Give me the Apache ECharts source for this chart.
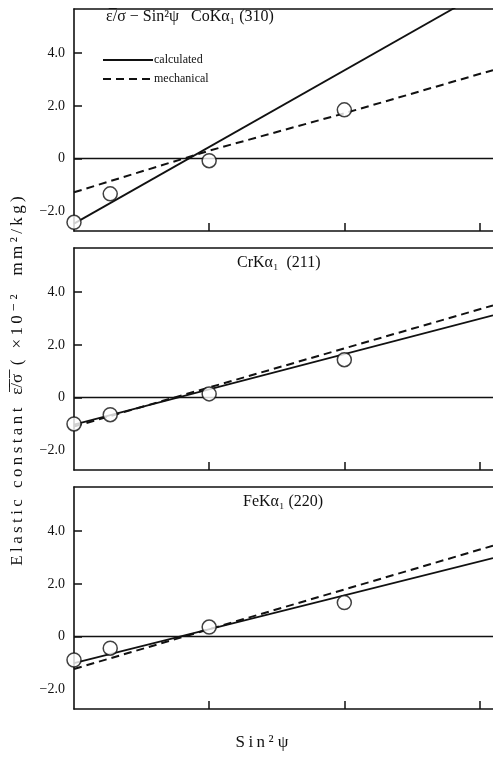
<!DOCTYPE html>
<html>
<head>
<meta charset="utf-8">
<script src="https://cdn.jsdelivr.net/npm/echarts@6/dist/echarts.min.js"></script>
<style>
  html, body { margin: 0; padding: 0; background: #fff; }
  #chart { width: 493px; height: 757px; }
</style>
</head>
<body>
<div id="chart"></div>
<script>
// sin^2(psi) for psi = 0, 15, 30, 45 deg (measured tilt angles)
const sin2psi = [0, 0.067, 0.25, 0.5];

// Measured elastic constants (x10^-2 mm^2/kg), one array per radiation
const measCo = [-2.42, -1.34, -0.08, 1.85];
const measCr = [-1.0, -0.65, 0.14, 1.44];
const measFe = [-0.89, -0.44, 0.36, 1.29];

// Calculated lines: [sin^2 psi, value]
const calcCo = [[0, -2.47], [0.775, 6.55]];
const calcCr = [[0, -1.03], [0.775, 3.12]];
const calcFe = [[0, -1.01], [0.775, 2.98]];

// Mechanically measured lines
const mechCo = [[0, -1.28], [0.25, 0.3], [0.5, 1.72], [0.775, 3.36]];
const mechCr = [[0, -1.1], [0.775, 3.5]];
const mechFe = [[0, -1.23], [0.775, 3.45]];

const panelTitles = ['ε\u0305/σ − Sin²ψ   CoKα\u2081 (310)', 'CrKα\u2081  (211)', 'FeKα\u2081 (220)'];
const yTickLabels = [-2, 0, 2, 4];
const xTicks = [0.25, 0.5, 0.75];

const FONT = 'Liberation Serif, DejaVu Serif, serif';
const INK = '#111';
const TS = '\u2009'; // thin space used to open up letter spacing

function spaced(s) {
  return Array.from(s).join(TS);
}

const panels = [
  { meas: measCo, calc: calcCo, mech: mechCo, top: 9 },
  { meas: measCr, calc: calcCr, mech: mechCr, top: 248 },
  { meas: measFe, calc: calcFe, mech: mechFe, top: 487 }
];

const grids = [], xAxes = [], yAxes = [], series = [];
panels.forEach((p, i) => {
  grids.push({ left: 74, right: 0, top: p.top, height: 222 });
  // bottom axis with inward ticks
  xAxes.push({
    type: 'value', gridIndex: i, min: 0, max: 0.775, position: 'bottom',
    axisLine: { onZero: false, lineStyle: { color: INK, width: 1.6 } },
    axisTick: { show: true, inside: true, length: 8, customValues: xTicks, lineStyle: { color: INK, width: 1.5 } },
    axisLabel: { show: false }, splitLine: { show: false }
  });
  // top frame line
  xAxes.push({
    type: 'value', gridIndex: i, min: 0, max: 0.775, position: 'top',
    axisLine: { onZero: false, lineStyle: { color: INK, width: 1.6 } },
    axisTick: { show: false }, axisLabel: { show: false }, splitLine: { show: false }
  });
  yAxes.push({
    type: 'value', gridIndex: i, min: -2.75, max: 5.68,
    axisLine: { show: true, onZero: false, lineStyle: { color: INK, width: 1.6 } },
    axisTick: { show: true, inside: true, length: 8, customValues: [0, 2, 4], lineStyle: { color: INK, width: 1.5 } },
    axisLabel: {
      customValues: yTickLabels, margin: 9, color: INK, fontFamily: FONT, fontSize: 14,
      formatter: v => v === 0 ? '0' : (v < 0 ? '−' : '') + Math.abs(v).toFixed(1)
    },
    splitLine: { show: false }
  });
  const xi = i * 2;
  series.push({
    name: 'calculated', type: 'line', xAxisIndex: xi, yAxisIndex: i,
    data: p.calc, symbol: 'none', clip: true, color: INK,
    lineStyle: { color: INK, width: 1.8, type: 'solid' },
    markLine: {
      silent: true, symbol: 'none', label: { show: false },
      lineStyle: { color: INK, width: 1.4, type: 'solid' },
      data: [{ yAxis: 0 }]
    },
    z: 3
  });
  series.push({
    name: 'mechanical', type: 'line', xAxisIndex: xi, yAxisIndex: i,
    data: p.mech, symbol: 'none', clip: true, color: INK,
    lineStyle: { color: INK, width: 2, type: [8, 5] },
    z: 3
  });
  series.push({
    name: 'measured', type: 'scatter', xAxisIndex: xi, yAxisIndex: i,
    data: sin2psi.map((x, k) => [x, p.meas[k]]),
    symbol: 'circle', symbolSize: 14,
    itemStyle: { color: '#fff', borderColor: INK, borderWidth: 1.5 },
    z: 5
  });
});

const titleStyle = { fontFamily: FONT, fontSize: 16, fontWeight: 'normal', color: INK };

const chart = echarts.init(document.getElementById('chart'), null, { renderer: 'canvas' });
chart.setOption({
  animation: false,
  backgroundColor: '#fff',
  title: [
    { text: panelTitles[0], left: 106, top: 9, padding: 0, textStyle: titleStyle },
    { text: panelTitles[1], left: 237, top: 255, padding: 0, textStyle: titleStyle },
    { text: panelTitles[2], left: 243, top: 494, padding: 0, textStyle: titleStyle }
  ],
  legend: {
    data: ['calculated', 'mechanical'],
    orient: 'vertical', left: 97, top: 49, itemWidth: 50, itemHeight: 10, itemGap: 7,
    itemStyle: { opacity: 0 },
    textStyle: { fontFamily: FONT, fontSize: 12, color: INK, padding: [0, 0, 0, -4] },
    selectedMode: false
  },
  grid: grids,
  xAxis: xAxes,
  yAxis: yAxes,
  series: series,
  graphic: [
    {
      type: 'text', x: 18, y: 381, rotation: Math.PI / 2,
      style: {
        text: spaced('Elastic constant') + '   ε\u0305/\u0305σ\u0305  ' + spaced('( ×10⁻²  mm²/kg)'),
        fontFamily: FONT, fontSize: 17, fill: INK, align: 'center', verticalAlign: 'middle'
      }
    },
    {
      type: 'text', x: 262, y: 743,
      style: {
        text: spaced('Sin²') + ' ψ', fontFamily: FONT, fontSize: 17, fill: INK, align: 'center', verticalAlign: 'middle'
      }
    }
  ]
});
</script>
</body>
</html>
